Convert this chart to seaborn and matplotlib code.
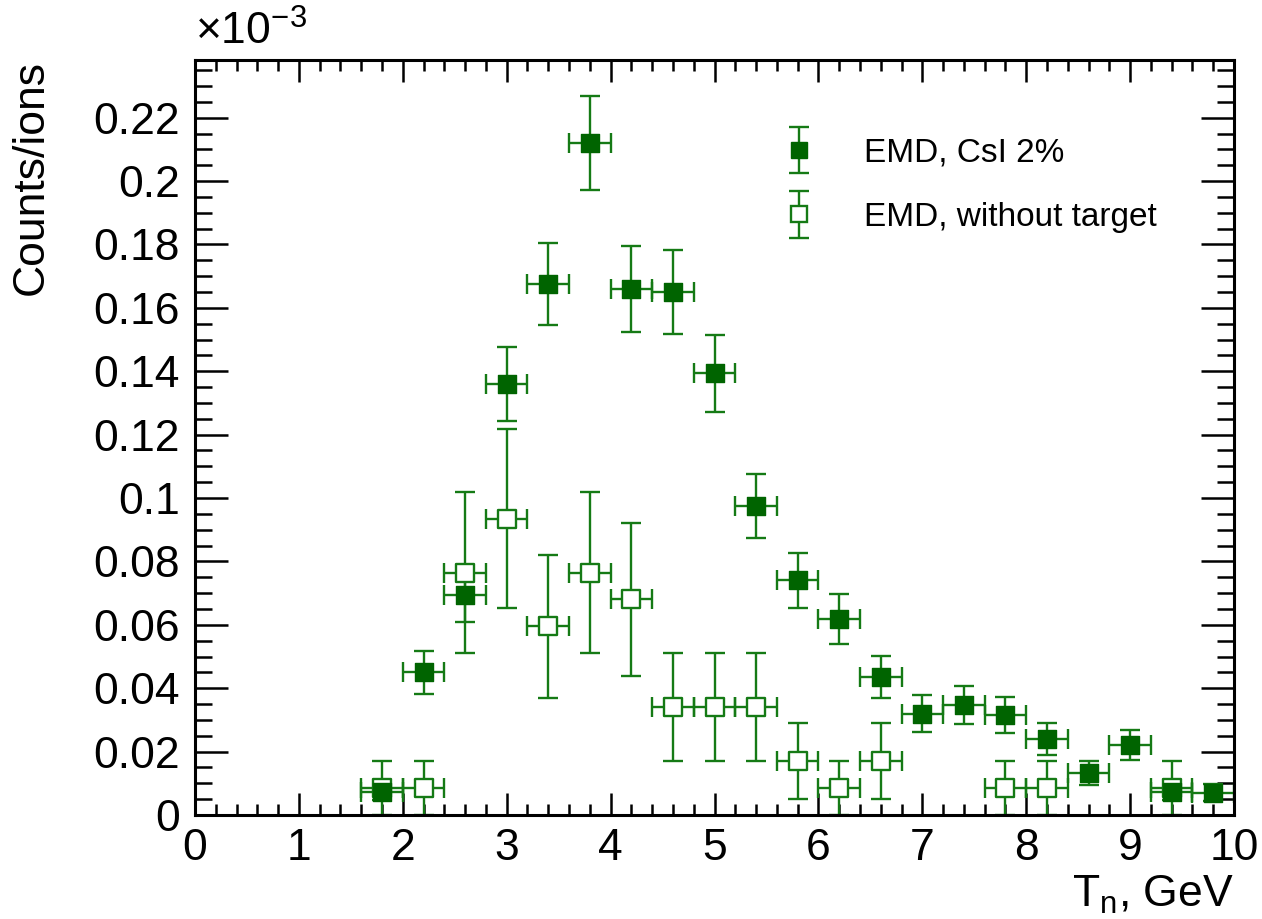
import numpy as np
import pandas as pd
import matplotlib
matplotlib.use("Agg")
import matplotlib.pyplot as plt
from matplotlib.ticker import MultipleLocator, FuncFormatter
from matplotlib.container import ErrorbarContainer
from matplotlib.legend_handler import HandlerErrorbar
import seaborn as sns

# Data (values in units of 1e-3 counts/ion)
x_csi = [1.8, 2.2, 2.6, 3.0, 3.4, 3.8, 4.2, 4.6, 5.0, 5.4, 5.8, 6.2, 6.6, 7.0, 7.4, 7.8, 8.2, 8.6, 9.0, 9.4, 9.8]
y_csi = [0.0072, 0.0450, 0.0694, 0.1360, 0.1675, 0.2120, 0.1660, 0.1650, 0.1393, 0.0975, 0.0740, 0.0618, 0.0435,
         0.0320, 0.0347, 0.0315, 0.0240, 0.0133, 0.0220, 0.0073, 0.0070]
e_csi = [0.0025, 0.0068, 0.0085, 0.0118, 0.0130, 0.0148, 0.0135, 0.0133, 0.0120, 0.0100, 0.0088, 0.0080, 0.0067,
         0.0058, 0.0060, 0.0057, 0.0050, 0.0037, 0.0048, 0.0027, 0.0027]

x_none = [1.8, 2.2, 2.6, 3.0, 3.4, 3.8, 4.2, 4.6, 5.0, 5.4, 5.8, 6.2, 6.6, 7.8, 8.2, 9.4]
y_none = [0.0085, 0.0085, 0.0765, 0.0935, 0.0595, 0.0765, 0.0680, 0.0340, 0.0340, 0.0340, 0.0170, 0.0085, 0.0170,
          0.0085, 0.0085, 0.0085]
e_none = [0.0085, 0.0085, 0.0255, 0.0282, 0.0225, 0.0255, 0.0240, 0.0170, 0.0170, 0.0170, 0.0120, 0.0085, 0.0120,
          0.0085, 0.0085, 0.0085]

bin_half = 0.2
label_csi = "EMD, CsI 2%"
label_none = "EMD, without target"

sns.set_theme(style="ticks")
plt.rcParams['font.family'] = ['Liberation Sans', 'DejaVu Sans']
plt.rcParams['mathtext.fontset'] = 'custom'
plt.rcParams['mathtext.rm'] = 'Liberation Sans'
plt.rcParams['mathtext.it'] = 'Liberation Sans'
plt.rcParams['text.color'] = 'black'
plt.rcParams['axes.labelcolor'] = 'black'

line_col = '#157a15'
fill_col = '#006400'

fig = plt.figure(figsize=(12.62, 9.19), dpi=100)
ax = fig.add_axes([195/1262, 1 - 815/919, (1234-195)/1262, (815-60)/919])

df_csi = pd.DataFrame({'x': x_csi, 'y': y_csi, 'e': e_csi})
df_none = pd.DataFrame({'x': x_none, 'y': y_none, 'e': e_none})

ekw = dict(fmt='none', ecolor=line_col, elinewidth=1.7, capsize=7, capthick=1.7, zorder=2)
ax.errorbar(df_none['x'], df_none['y'], yerr=df_none['e'], xerr=bin_half, **ekw)
ax.errorbar(df_csi['x'], df_csi['y'], yerr=df_csi['e'], xerr=bin_half, **ekw)

sns.scatterplot(data=df_none, x='x', y='y', marker='s', s=150, facecolor='white', edgecolor=line_col,
                linewidth=1.7, ax=ax, zorder=3, legend=False)
sns.scatterplot(data=df_csi, x='x', y='y', marker='s', s=150, color=fill_col, edgecolor=fill_col,
                linewidth=1.0, ax=ax, zorder=4, legend=False)

# legend handles (vertical error bar + marker)
h1 = ax.errorbar([np.nan], [np.nan], yerr=[1], fmt='s', ms=12, mfc=fill_col, mec=fill_col,
                 ecolor=line_col, elinewidth=1.7, capsize=7, capthick=1.7)
h2 = ax.errorbar([np.nan], [np.nan], yerr=[1], fmt='s', ms=12, mfc='white', mec=line_col, mew=1.7,
                 ecolor=line_col, elinewidth=1.7, capsize=7, capthick=1.7)
leg = ax.legend([h1, h2], [label_csi, label_none], loc='upper left', bbox_to_anchor=(0.535, 0.937),
                frameon=False, fontsize=24, handlelength=1.1, handletextpad=1.4, labelspacing=1.0,
                handler_map={ErrorbarContainer: HandlerErrorbar(yerr_size=0.7)})
for t in leg.get_texts():
    t.set_color('black')

ax.set_xlim(0, 10)
ax.set_ylim(0, 0.2382)
ax.xaxis.set_major_locator(MultipleLocator(1))
ax.xaxis.set_minor_locator(MultipleLocator(0.2))
ax.yaxis.set_major_locator(MultipleLocator(0.02))
ax.yaxis.set_minor_locator(MultipleLocator(0.005))
ax.yaxis.set_major_formatter(FuncFormatter(lambda v, p: ('%.2f' % v).rstrip('0').rstrip('.') if v > 1e-9 else '0'))
ax.xaxis.set_major_formatter(FuncFormatter(lambda v, p: '%g' % v))

for s in ax.spines.values():
    s.set_linewidth(2.2)
    s.set_color('black')
ax.tick_params(axis='both', which='both', direction='in', top=True, right=True, width=1.8, colors='black',
               labelsize=32)
ax.tick_params(axis='x', which='major', length=16, pad=9)
ax.tick_params(axis='x', which='minor', length=8)
ax.tick_params(axis='y', which='major', length=24, pad=11)
ax.tick_params(axis='y', which='minor', length=12)

ax.set_xlabel('T$_{\\mathregular{n}}$, GeV', fontsize=32, loc='right', labelpad=4, color='black')
ax.set_ylabel('Counts/ions', fontsize=32, loc='top', labelpad=30, color='black')
ax.text(0.0, 1.008, '\u00d710$^{\\mathregular{-3}}$', transform=ax.transAxes, fontsize=32, ha='left',
        va='bottom', color='black')

fig.savefig('out.png', dpi=100)
